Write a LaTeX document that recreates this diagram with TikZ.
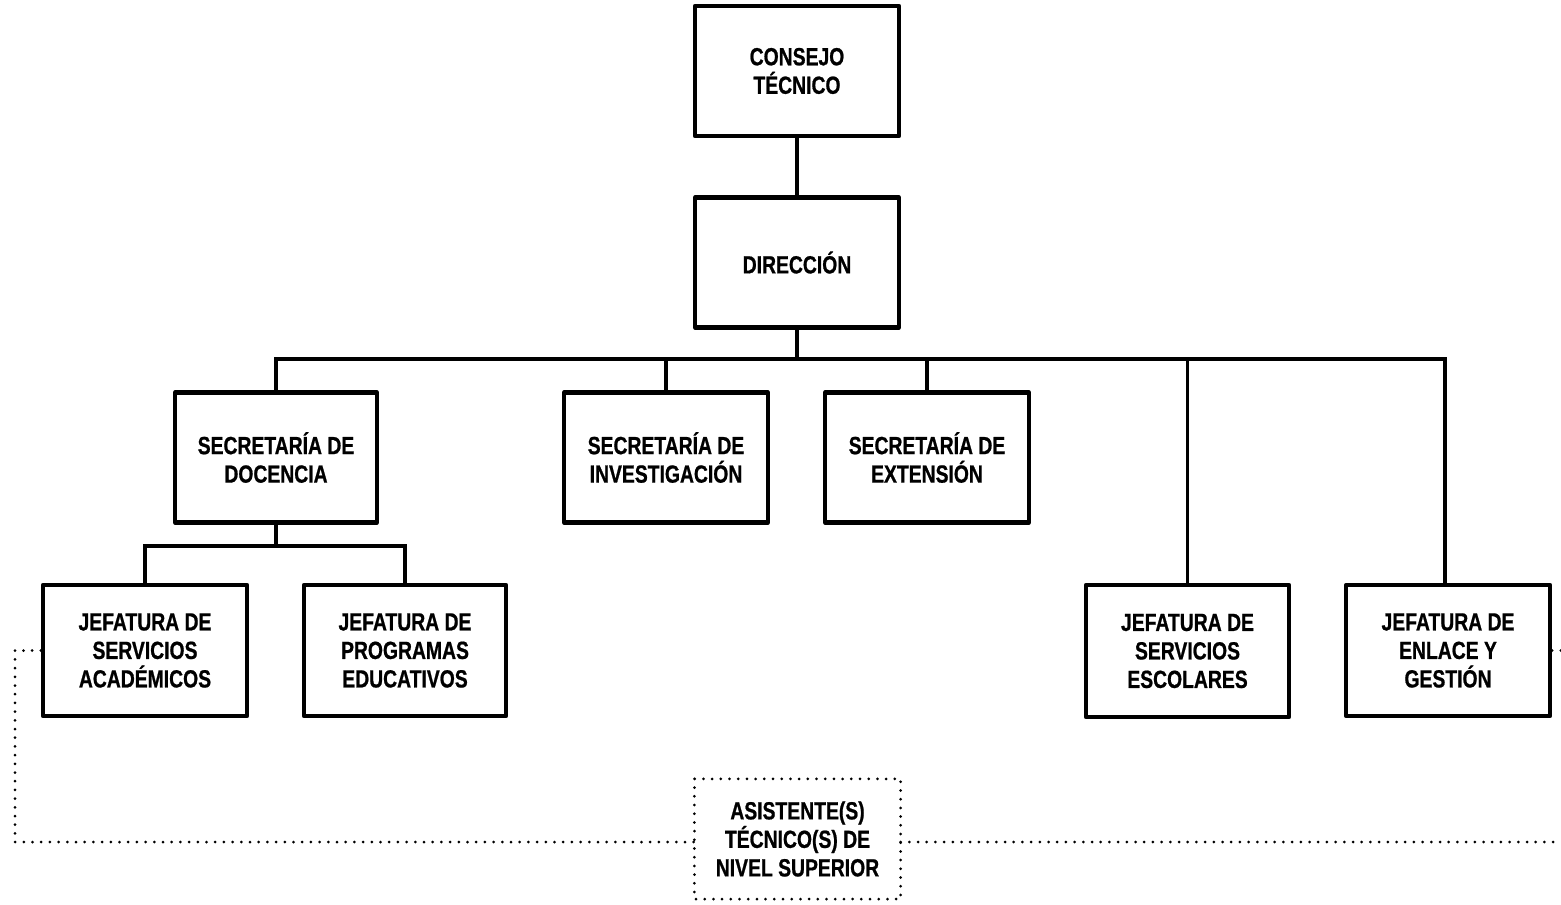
\documentclass[tikz,border=0pt]{standalone}
\usepackage{fontspec}
\setmainfont{Liberation Sans}[FakeStretch=0.78,BoldFeatures={FakeBold=0.8}]
\begin{document}
\begin{tikzpicture}[x=0.5pt,y=-0.5pt,
  box/.style={draw,line width=2.1pt,line join=round,minimum width=102pt,minimum height=65pt,align=center,inner sep=0pt,font=\fontsize{12.4}{14.25}\selectfont\bfseries},
  conn/.style={line width=1.9pt},
  dotline/.style={line width=1.5pt,line cap=round,dash pattern=on 0pt off 4.35pt}]
\useasboundingbox (0,0) rectangle (1561,904);
\node[box] (con) at (797,71) {CONSEJO\\TÉCNICO};
\node[box] (dir) at (797,262.5) {DIRECCIÓN};
\node[box,minimum width=101pt] (sdoc) at (276,457.5) {SECRETARÍA DE\\DOCENCIA};
\node[box] (sinv) at (666,457.5) {SECRETARÍA DE\\INVESTIGACIÓN};
\node[box] (sext) at (927,457.5) {SECRETARÍA DE\\EXTENSIÓN};
\node[box,minimum height=65.5pt] (jsa) at (145,650.5) {JEFATURA DE\\SERVICIOS\\ACADÉMICOS};
\node[box,minimum width=101pt,minimum height=65.5pt] (jpe) at (405,650.5) {JEFATURA DE\\PROGRAMAS\\EDUCATIVOS};
\node[box,minimum width=101.5pt,minimum height=66pt] (jse) at (1187.5,651) {JEFATURA DE\\SERVICIOS\\ESCOLARES};
\node[box,minimum height=65.5pt] (jen) at (1448,650.5) {JEFATURA DE\\ENLACE Y\\GESTIÓN};
\node[box,draw=none,minimum width=101pt,minimum height=58pt] (asis) at (797.5,839) {ASISTENTE(S)\\TÉCNICO(S) DE\\NIVEL SUPERIOR};
\draw[dotline] (asis.north west) rectangle (asis.south east);
\coordinate (bus) at (276,359);
\coordinate (sbus) at (145,546);
\coordinate (cl) at (15,842);
\coordinate (cr) at (1561,842);
\draw[conn] (con) -- (dir);
\draw[conn] (dir.south) -- (dir.south |- bus);
\draw[conn] (sdoc.north) -- (sdoc.north |- bus) -- (1445,359) -- (jen.north -| 1445,0);
\draw[conn] (sinv.north) -- (sinv.north |- bus);
\draw[conn] (sext.north) -- (sext.north |- bus);
\draw[conn] (jse.north) -- (jse.north |- bus);
\draw[conn] (sdoc.south) -- (sdoc.south |- sbus);
\draw[conn] (jsa.north) -- (sbus) -- (jpe.north |- sbus) -- (jpe.north);
\draw[dotline] (jsa.west) -| (cl) -- (cl -| asis.west);
\draw[dotline] (cr -| asis.east) -- (cr);
\draw[dotline] (jen.east) -- (jen.east -| cr);
\end{tikzpicture}
\end{document}
